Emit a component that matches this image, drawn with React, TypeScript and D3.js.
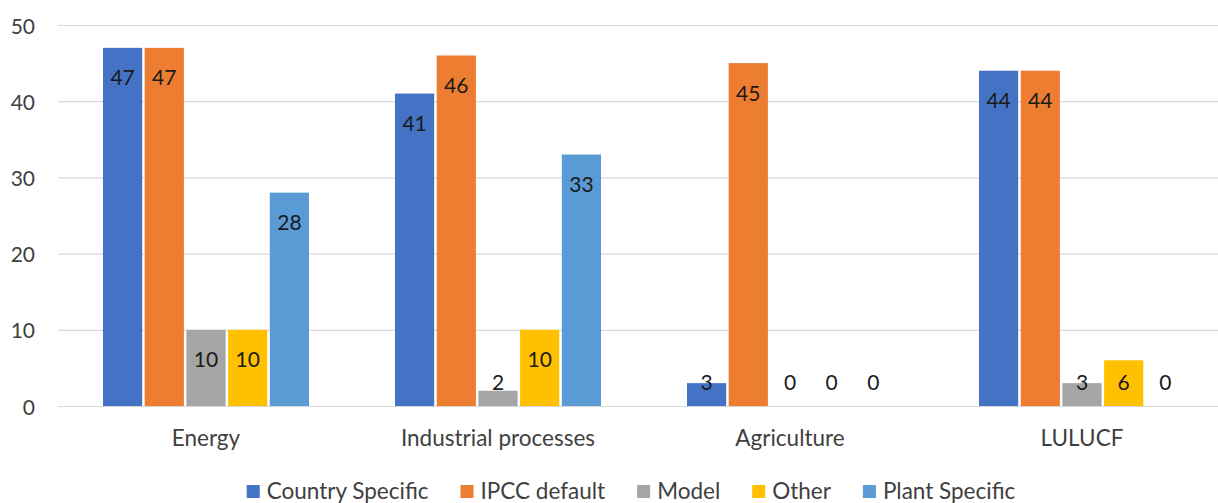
import React, { useEffect, useRef } from "react";
import * as d3 from "d3";

const categories = ["Energy", "Industrial processes", "Agriculture", "LULUCF"];
const seriesNames = ["Country Specific", "IPCC default", "Model", "Other", "Plant Specific"];
const countrySpecific = [47, 41, 3, 44];
const ipccDefault = [47, 46, 45, 44];
const model = [10, 2, 0, 3];
const other = [10, 10, 0, 6];
const plantSpecific = [28, 33, 0, 0];
const yTicks = [0, 10, 20, 30, 40, 50];
const colors = ["#4472C4", "#ED7D31", "#A5A5A5", "#FFC000", "#5B9BD5"];

const seriesValues = [countrySpecific, ipccDefault, model, other, plantSpecific];

const W = 1218;
const H = 503;
const FONT = "Lato, 'Open Sans', sans-serif";

export default function App() {
  const ref = useRef<SVGSVGElement>(null);

  useEffect(() => {
    document.body.style.margin = "0";
    const svg = d3.select(ref.current);
    svg.selectAll("*").remove();

    const x0 = d3
      .scaleBand<string>()
      .domain(categories)
      .range([60, 1228])
      .paddingInner(0.2945)
      .paddingOuter(0.14725);
    const x1 = d3
      .scaleBand<string>()
      .domain(seriesNames)
      .range([0, x0.bandwidth()])
      .paddingInner(0.06);
    const y = d3.scaleLinear().domain([0, 50]).range([406, 25]);

    // gridlines
    svg
      .append("g")
      .selectAll("line")
      .data(yTicks)
      .join("line")
      .attr("x1", 58)
      .attr("x2", W)
      .attr("y1", (d) => y(d) + 0.5)
      .attr("y2", (d) => y(d) + 0.5)
      .attr("stroke", "#d9d9d9")
      .attr("stroke-width", 1.2);

    // y tick labels
    svg
      .append("g")
      .selectAll("text")
      .data(yTicks)
      .join("text")
      .attr("x", 35)
      .attr("y", (d) => y(d))
      .attr("text-anchor", "end")
      .attr("dominant-baseline", "central")
      .attr("font-family", FONT)
      .attr("font-size", 21)
      .attr("fill", "#404040")
      .text((d) => String(d));

    const flat: { cat: string; s: string; v: number; i: number }[] = [];
    categories.forEach((cat, ci) => {
      seriesNames.forEach((s, si) => {
        flat.push({ cat, s, v: seriesValues[si][ci], i: si });
      });
    });

    const barsG = svg.append("g");
    barsG
      .selectAll("rect")
      .data(flat.filter((d) => d.v > 0))
      .join("rect")
      .attr("x", (d) => (x0(d.cat) as number) + (x1(d.s) as number))
      .attr("y", (d) => y(d.v))
      .attr("width", x1.bandwidth())
      .attr("height", (d) => y(0) - y(d.v))
      .attr("fill", (d) => colors[d.i]);

    // data labels
    svg
      .append("g")
      .selectAll("text")
      .data(flat)
      .join("text")
      .attr("x", (d) => (x0(d.cat) as number) + (x1(d.s) as number) + x1.bandwidth() / 2)
      .attr("y", (d) => Math.min(y(d.v) + 29, y(0) - 25))
      .attr("text-anchor", "middle")
      .attr("dominant-baseline", "central")
      .attr("font-family", FONT)
      .attr("font-size", 21)
      .attr("fill", "#1a1a1a")
      .text((d) => String(d.v));

    // category labels
    svg
      .append("g")
      .selectAll("text")
      .data(categories)
      .join("text")
      .attr("x", (d) => (x0(d) as number) + x0.bandwidth() / 2)
      .attr("y", 446)
      .attr("text-anchor", "middle")
      .attr("font-family", FONT)
      .attr("font-size", 22.5)
      .attr("fill", "#404040")
      .text((d) => d);

    // legend
    const legend = svg.append("g");
    const items = legend
      .selectAll("g")
      .data(seriesNames)
      .join("g");
    items
      .append("rect")
      .attr("width", 13)
      .attr("height", 13)
      .attr("y", 485)
      .attr("fill", (d, i) => colors[i]);
    const texts = items
      .append("text")
      .attr("x", 20)
      .attr("y", 499)
      .attr("font-family", FONT)
      .attr("font-size", 22.5)
      .attr("fill", "#404040")
      .text((d) => d);
    const widths: number[] = [];
    texts.each(function () {
      widths.push((this as SVGTextElement).getComputedTextLength());
    });
    const gap = 32;
    const itemW = widths.map((w) => 20 + w);
    const total = d3.sum(itemW) + gap * (itemW.length - 1);
    let cx = 631 - total / 2;
    items.attr("transform", (d, i) => {
      const t = `translate(${cx},0)`;
      cx += itemW[i] + gap;
      return t;
    });
  }, []);

  return <svg ref={ref} width={W} height={H} style={{ display: "block", background: "#fff" }} />;
}
